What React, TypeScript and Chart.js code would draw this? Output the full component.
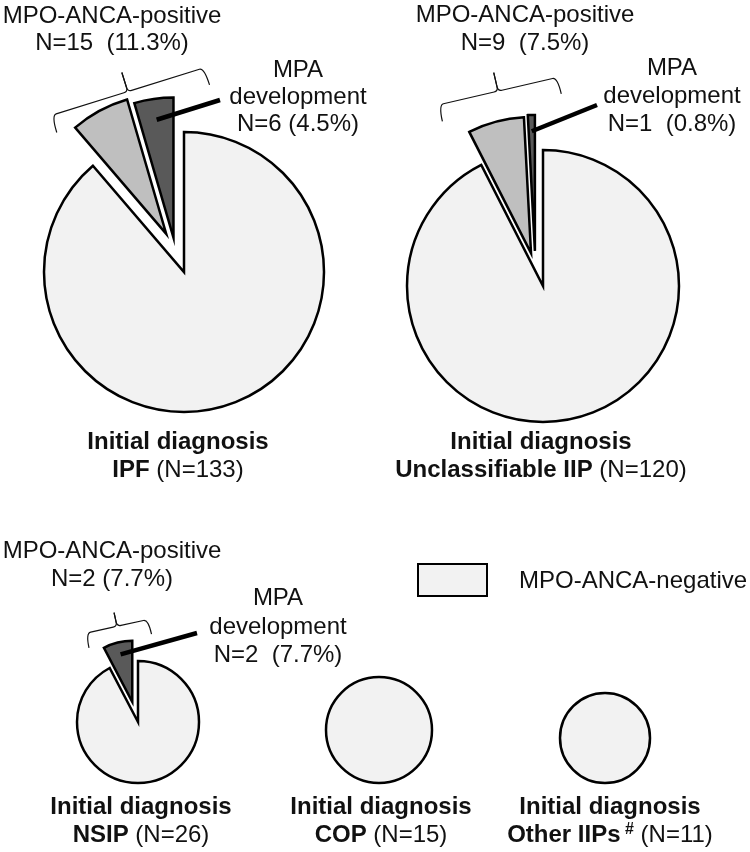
import React, { useEffect, useRef } from "react";
import { Chart, registerables } from "chart.js";

Chart.register(...registerables);

// ---------- data ----------
const SLICE_LABELS = ["MPO-ANCA-negative", "MPO-ANCA-positive (no MPA)", "MPA development"];
const SLICE_COLORS = ["#f2f2f2", "#bfbfbf", "#595959"];
const DIAGNOSES = ["IPF", "Unclassifiable IIP", "NSIP", "COP", "Other IIPs"];
const IPF_VALUES = [118, 9, 6];
const UIIP_VALUES = [111, 8, 1];
const NSIP_VALUES = [24, 0, 2];
const COP_VALUES = [15, 0, 0];
const OTHER_VALUES = [11, 0, 0];

const FONT = '"Liberation Sans", Arial, Helvetica, sans-serif';
const TAU = Math.PI * 2;
const DEG = Math.PI / 180;

type Brace = { d: number; w: number; h: number; n: number; rot: number };
type Leader = { frac: number; ex: number; ey: number };
type PieCfg = {
  values: number[];
  cx: number;
  cy: number;
  r: number;
  explode: number[]; // pull-out distance per slice (px)
  explodeRot: number[]; // direction tweak per slice (deg) relative to the positive group's middle
  brace?: Brace;
  leader?: Leader;
};

const CANVAS = 520;

// middle angle of the MPO-ANCA-positive group (slices 1 and 2)
function groupAngle(meta: any) {
  const a = meta.data[1].getProps(["startAngle"], true);
  const b = meta.data[2].getProps(["endAngle"], true);
  return (a.startAngle + b.endAngle) / 2;
}

function shiftOf(cfg: PieCfg, meta: any, i: number): [number, number] {
  const d = cfg.explode[i] || 0;
  if (!d) return [0, 0];
  const dir = groupAngle(meta) + (cfg.explodeRot[i] || 0) * DEG;
  return [Math.cos(dir) * d, Math.sin(dir) * d];
}

function makePlugin(cfg: PieCfg) {
  return {
    id: "explodedPie",
    beforeDatasetDraw(chart: any, args: any) {
      const ctx = chart.ctx as CanvasRenderingContext2D;
      const meta = args.meta;
      meta.data.forEach((el: any, i: number) => {
        const p = el.getProps(["x", "y", "startAngle", "endAngle", "outerRadius", "circumference"], true);
        if (!p.circumference) return;
        const [dx, dy] = shiftOf(cfg, meta, i);
        ctx.save();
        ctx.translate(dx, dy);
        el.draw(ctx, chart.chartArea);
        ctx.beginPath();
        if (p.circumference >= TAU - 1e-6) {
          ctx.arc(p.x, p.y, p.outerRadius, 0, TAU);
        } else {
          ctx.moveTo(p.x, p.y);
          ctx.arc(p.x, p.y, p.outerRadius, p.startAngle, p.endAngle);
          ctx.closePath();
        }
        ctx.lineWidth = 2.5;
        ctx.lineJoin = "miter";
        ctx.miterLimit = 10;
        ctx.strokeStyle = "#000";
        ctx.stroke();
        ctx.restore();
      });
      return false;
    },
    afterDatasetsDraw(chart: any) {
      const ctx = chart.ctx as CanvasRenderingContext2D;
      const meta = chart.getDatasetMeta(0);
      const a = meta.data[1].getProps(["x", "y"], true);
      const b = meta.data[2].getProps(["startAngle", "endAngle", "outerRadius"], true);
      const cx = a.x;
      const cy = a.y;
      if (cfg.brace) {
        const { d, w, h, n, rot } = cfg.brace;
        const th = groupAngle(meta) + rot * DEG;
        const ux = Math.cos(th), uy = Math.sin(th);
        const vx = -Math.sin(th), vy = Math.cos(th);
        const P = (t: number, s: number): [number, number] => [
          cx + ux * (d + s) + vx * t,
          cy + uy * (d + s) + vy * t,
        ];
        ctx.save();
        ctx.strokeStyle = "#111";
        ctx.lineWidth = 1.2;
        for (const side of [-1, 1]) {
          ctx.beginPath();
          ctx.moveTo(...P(side * w, -h));
          ctx.quadraticCurveTo(...P(side * w, 0), ...P(side * (w - 5), 0));
          ctx.lineTo(...P(side * 4, 0));
          ctx.quadraticCurveTo(...P(0, 0), ...P(0, 4));
          ctx.lineTo(...P(0, n));
          ctx.stroke();
        }
        ctx.restore();
      }
      if (cfg.leader) {
        const { frac, ex, ey } = cfg.leader;
        const mid = (b.startAngle + b.endAngle) / 2;
        const [dx, dy] = shiftOf(cfg, meta, 2);
        const sx = cx + dx + Math.cos(mid) * frac * b.outerRadius;
        const sy = cy + dy + Math.sin(mid) * frac * b.outerRadius;
        ctx.save();
        ctx.strokeStyle = "#000";
        ctx.lineWidth = 4.5;
        ctx.beginPath();
        ctx.moveTo(sx, sy);
        ctx.lineTo(cx + ex, cy + ey);
        ctx.stroke();
        ctx.restore();
      }
    },
  };
}

function Pie({ cfg }: { cfg: PieCfg }) {
  const ref = useRef<HTMLCanvasElement>(null);
  useEffect(() => {
    if (!ref.current) return;
    const chart = new Chart(ref.current, {
      type: "pie",
      data: {
        labels: SLICE_LABELS,
        datasets: [
          {
            data: cfg.values,
            backgroundColor: SLICE_COLORS,
            borderWidth: 0,
            radius: cfg.r,
          } as any,
        ],
      },
      options: {
        responsive: false,
        animation: false,
        events: [],
        layout: { padding: 0 },
        plugins: { legend: { display: false }, tooltip: { enabled: false } },
      } as any,
      plugins: [makePlugin(cfg) as any],
    });
    return () => chart.destroy();
  }, [cfg]);
  return (
    <canvas
      ref={ref}
      width={CANVAS}
      height={CANVAS}
      style={{ position: "absolute", left: cfg.cx - CANVAS / 2, top: cfg.cy - CANVAS / 2, width: CANVAS, height: CANVAS }}
    />
  );
}

const sum = (a: number[]) => a.reduce((s, v) => s + v, 0);
const fmt = (n: number, total: number, gap: string) => `N=${n}${gap}(${((n / total) * 100).toFixed(1)}%)`;

const PIES: PieCfg[] = [
  {
    values: IPF_VALUES, cx: 184, cy: 272, r: 140,
    explode: [0, 42, 36], explodeRot: [0, -4.7, 3.3],
    brace: { d: 189, w: 80, h: 18, n: 20, rot: 3 },
    leader: { frac: 0.85, ex: 36, ey: -172 },
  },
  {
    values: UIIP_VALUES, cx: 543, cy: 286, r: 136,
    explode: [0, 35, 36], explodeRot: [0, -6.5, 0.5],
    brace: { d: 200, w: 61, h: 17, n: 19, rot: 0.5 },
    leader: { frac: 0.88, ex: 54, ey: -181 },
  },
  {
    values: NSIP_VALUES, cx: 138, cy: 722, r: 61,
    explode: [0, 0, 21], explodeRot: [0, 0, -2],
    brace: { d: 98, w: 32, h: 15, n: 14, rot: 1.5 },
    leader: { frac: 0.8, ex: 59, ey: -89 },
  },
  { values: COP_VALUES, cx: 379, cy: 730, r: 53, explode: [0, 0, 0], explodeRot: [0, 0, 0] },
  { values: OTHER_VALUES, cx: 605, cy: 738, r: 45, explode: [0, 0, 0], explodeRot: [0, 0, 0] },
];

function Txt({ cx, top, lh, children, left }: { cx?: number; top: number; lh: number; children: React.ReactNode; left?: number }) {
  const style: React.CSSProperties = {
    position: "absolute",
    top,
    fontSize: 24,
    lineHeight: `${lh}px`,
    whiteSpace: "pre",
    fontFamily: FONT,
    color: "#111",
  };
  if (left !== undefined) {
    style.left = left;
  } else {
    style.left = (cx as number) - 200;
    style.width = 400;
    style.textAlign = "center";
  }
  return <div style={style}>{children}</div>;
}

export default function App() {
  const tot = [IPF_VALUES, UIIP_VALUES, NSIP_VALUES, COP_VALUES, OTHER_VALUES].map(sum);
  const pos = [IPF_VALUES, UIIP_VALUES, NSIP_VALUES].map((v) => v[1] + v[2]);
  const mpa = [IPF_VALUES, UIIP_VALUES, NSIP_VALUES].map((v) => v[2]);
  const title = (i: number, extra?: React.ReactNode) => (
    <>
      <b>Initial diagnosis</b>
      {"\n"}
      <b>{DIAGNOSES[i]}</b>
      {extra}
      {` (N=${tot[i]})`}
    </>
  );
  return (
    <div
      style={{
        position: "absolute",
        left: 0,
        top: 0,
        width: 750,
        height: 852,
        overflow: "hidden",
        background: "#fff",
        fontFamily: FONT,
      }}
    >
      {PIES.map((p, i) => (
        <Pie key={i} cfg={p} />
      ))}

      {/* IPF */}
      <Txt cx={112} top={1} lh={27}>{`MPO-ANCA-positive\n${fmt(pos[0], tot[0], "  ")}`}</Txt>
      <Txt cx={298} top={55} lh={27}>{`MPA\ndevelopment\n${fmt(mpa[0], tot[0], " ")}`}</Txt>
      <Txt cx={178} top={427} lh={28}>{title(0)}</Txt>

      {/* Unclassifiable IIP */}
      <Txt cx={525} top={0} lh={28}>{`MPO-ANCA-positive\n${fmt(pos[1], tot[1], "  ")}`}</Txt>
      <Txt cx={672} top={53} lh={28}>{`MPA\ndevelopment\n${fmt(mpa[1], tot[1], "  ")}`}</Txt>
      <Txt cx={541} top={427} lh={28}>{title(1)}</Txt>

      {/* NSIP */}
      <Txt cx={112} top={536} lh={28}>{`MPO-ANCA-positive\n${fmt(pos[2], tot[2], " ")}`}</Txt>
      <Txt cx={278} top={583} lh={28.5}>{`MPA\ndevelopment\n${fmt(mpa[2], tot[2], "  ")}`}</Txt>
      <Txt cx={141} top={792} lh={28}>{title(2)}</Txt>

      {/* COP */}
      <Txt cx={381} top={792} lh={28}>{title(3)}</Txt>

      {/* Other IIPs */}
      <Txt cx={610} top={792} lh={28}>
        {title(4, <b style={{ fontSize: 16, verticalAlign: "8px", lineHeight: 0 }}>{" #"}</b>)}
      </Txt>

      {/* legend */}
      <div
        style={{
          position: "absolute",
          left: 417,
          top: 563,
          width: 71,
          height: 34,
          boxSizing: "border-box",
          border: "2.5px solid #000",
          background: SLICE_COLORS[0],
        }}
      />
      <Txt left={519} top={566} lh={28}>{SLICE_LABELS[0]}</Txt>
    </div>
  );
}
